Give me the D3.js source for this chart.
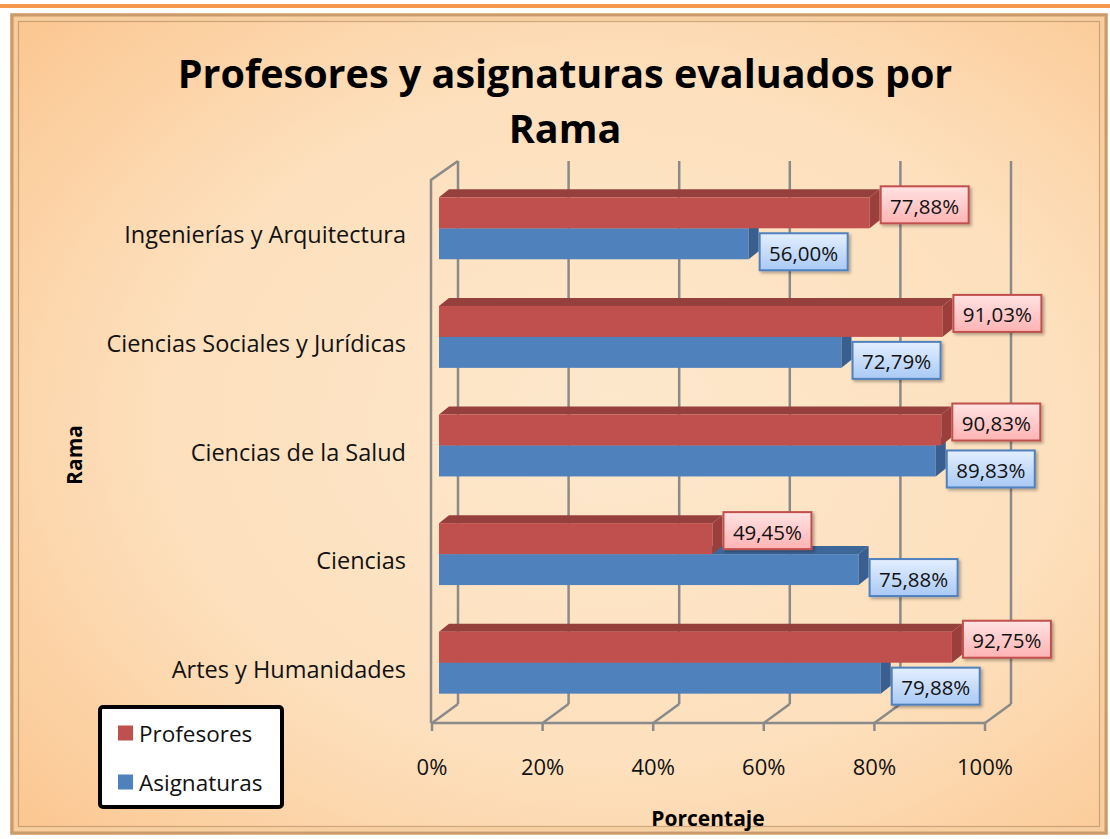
<!DOCTYPE html>
<html>
<head>
<meta charset="utf-8">
<script src="https://cdn.jsdelivr.net/npm/d3@7"></script>
<style>
  html, body { margin: 0; padding: 0; background: #fff; }
  svg { display: block; font-family: "Open Sans", "Noto Sans", sans-serif; }
</style>
</head>
<body>
<div class="chart"></div>
<script>
"use strict";
(function(){

var categories = ["Ingenierías y Arquitectura", "Ciencias Sociales y Jurídicas", "Ciencias de la Salud", "Ciencias", "Artes y Humanidades"];
var profesores = [77.88, 91.03, 90.83, 49.45, 92.75];
var asignaturas = [56.00, 72.79, 89.83, 75.88, 79.88];
var xTicks = [0, 20, 40, 60, 80, 100];
var seriesNames = ["Profesores", "Asignaturas"];

var width = 1110;
var height = 839;

var svg = d3.select('.chart')
            .append('svg')
            .attr('width', width)
            .attr('height', height);

var defs = svg.append('defs');

var bg = defs.append('radialGradient').attr('id', 'bg')
  .attr('cx', '0.55').attr('cy', '0.5').attr('r', '0.75');
bg.append('stop').attr('offset', '0%').attr('stop-color', '#fde8cc');
bg.append('stop').attr('offset', '55%').attr('stop-color', '#fde0bd');
bg.append('stop').attr('offset', '100%').attr('stop-color', '#fbc58e');

var gRed = defs.append('linearGradient').attr('id', 'lblRed').attr('x1', 0).attr('y1', 0).attr('x2', 0).attr('y2', 1);
gRed.append('stop').attr('offset', '0%').attr('stop-color', '#ffe3e3');
gRed.append('stop').attr('offset', '100%').attr('stop-color', '#ffb3b3');
var gBlue = defs.append('linearGradient').attr('id', 'lblBlue').attr('x1', 0).attr('y1', 0).attr('x2', 0).attr('y2', 1);
gBlue.append('stop').attr('offset', '0%').attr('stop-color', '#e4efff');
gBlue.append('stop').attr('offset', '100%').attr('stop-color', '#a9c9f5');

var shadow = defs.append('filter').attr('id', 'shadow')
  .attr('x', '-10%').attr('y', '-10%').attr('width', '130%').attr('height', '140%');
shadow.append('feDropShadow').attr('dx', 2).attr('dy', 2).attr('stdDeviation', 1.5)
  .attr('flood-color', '#000').attr('flood-opacity', 0.3);

// top orange rule and framed background
svg.append('rect').attr('x', 0).attr('y', 4).attr('width', width).attr('height', 4).attr('fill', '#f5964a');
svg.append('rect').attr('x', 10).attr('y', 13).attr('width', 1098).attr('height', 822).attr('fill', 'url(#bg)');
svg.append('rect').attr('x', 12).attr('y', 15).attr('width', 1094).attr('height', 818)
  .attr('fill', 'none').attr('stroke', '#c99a6c').attr('stroke-width', 3);
svg.append('rect').attr('x', 16).attr('y', 19).attr('width', 1086).attr('height', 810)
  .attr('fill', 'none').attr('stroke', '#f6cfa0').attr('stroke-width', 3);
svg.append('rect').attr('x', 18.5).attr('y', 21.5).attr('width', 1081).attr('height', 805)
  .attr('fill', 'none').attr('stroke', '#b98e68').attr('stroke-width', 1.2).attr('opacity', 0.7);

// scales
var x = d3.scaleLinear().domain([0, 100]).range([432, 985]);
var y = d3.scaleBand().domain(categories).range([180, 723]).paddingInner(0.43).paddingOuter(0.215);

var depth = {dx: 26, dy: -19};     // back wall offset
var plane = {dx: 7, dy: -6};       // front plane of bars
var bDepth = {dx: 10, dy: -8};     // bar thickness
var floorY = 723, topY = 180;
var gridColor = '#8a8a8a';

var grid = svg.append('g').attr('stroke', gridColor).attr('stroke-width', 2.5).attr('fill', 'none');

// back wall vertical gridlines
grid.selectAll('.vgrid').data(xTicks).enter().append('line')
  .attr('x1', function(d){ return x(d) + depth.dx; })
  .attr('x2', function(d){ return x(d) + depth.dx; })
  .attr('y1', topY + depth.dy)
  .attr('y2', floorY + depth.dy);

// floor diagonals
grid.selectAll('.fdiag').data(xTicks).enter().append('line')
  .attr('x1', function(d){ return x(d); })
  .attr('y1', floorY)
  .attr('x2', function(d){ return x(d) + depth.dx; })
  .attr('y2', floorY + depth.dy);

// left wall
grid.append('polyline')
  .attr('points', [[x(0) - 1, floorY], [x(0) - 1, topY], [x(0) + depth.dx, topY + depth.dy]].join(' '));

// floor front line and ticks
grid.append('line').attr('x1', x(0) - 1).attr('x2', x(100)).attr('y1', floorY).attr('y2', floorY);
grid.selectAll('.tick').data(xTicks).enter().append('line')
  .attr('x1', function(d){ return x(d); }).attr('x2', function(d){ return x(d); })
  .attr('y1', floorY).attr('y2', floorY + 8);

// bars
var series = [
  {name: seriesNames[1], values: asignaturas, front: '#4f81bd', top: '#3d6699', side: '#385f8f', offset: 1},
  {name: seriesNames[0], values: profesores, front: '#c0504d', top: '#96403d', side: '#9c3f3c', offset: 0}
];

var bh = y.bandwidth() / 2;
var bars = svg.append('g');

series.forEach(function(s){
  var g = bars.append('g');
  categories.forEach(function(c, i){
    var x0 = x(0) + plane.dx;
    var x1 = x(s.values[i]) + plane.dx;
    var y0 = y(c) + plane.dy + s.offset * bh;
    var y1 = y0 + bh;
    // top face
    g.append('polygon')
      .attr('points', [[x0, y0], [x0 + bDepth.dx, y0 + bDepth.dy], [x1 + bDepth.dx, y0 + bDepth.dy], [x1, y0]].join(' '))
      .attr('fill', s.top);
    // front face
    g.append('rect').attr('x', x0).attr('y', y0).attr('width', x1 - x0).attr('height', bh).attr('fill', s.front);
    // side face
    g.append('polygon')
      .attr('points', [[x1, y0], [x1 + bDepth.dx, y0 + bDepth.dy], [x1 + bDepth.dx, y1 + bDepth.dy], [x1, y1]].join(' '))
      .attr('fill', s.side);
  });
});

// value labels
var fmt = d3.formatLocale({decimal: ",", thousands: ".", grouping: [3], currency: ["", "€"]}).format(".2f");
var labels = svg.append('g');
series.forEach(function(s){
  categories.forEach(function(c, i){
    var barMid = y(c) + plane.dy + s.offset * bh + bh / 2;
    var cy = barMid + (s.offset ? 8 : -8);
    var lx = x(s.values[i]) + plane.dx + 11;
    var g = labels.append('g');
    g.append('rect')
      .attr('x', lx).attr('y', cy - 18.5).attr('width', 88).attr('height', 37)
      .attr('fill', s.offset ? 'url(#lblBlue)' : 'url(#lblRed)')
      .attr('stroke', s.offset ? '#4f81bd' : '#c0504d').attr('stroke-width', 2)
      .attr('filter', 'url(#shadow)');
    g.append('text')
      .attr('x', lx + 44).attr('y', cy + 1)
      .attr('text-anchor', 'middle').attr('dominant-baseline', 'central')
      .attr('font-size', 20.5).attr('fill', '#111')
      .text(fmt(s.values[i]) + '%');
  });
});

// category labels
svg.append('g').selectAll('text').data(categories).enter().append('text')
  .attr('x', 406)
  .attr('y', function(d){ return y(d) + y.bandwidth() / 2; })
  .attr('text-anchor', 'end').attr('dominant-baseline', 'central')
  .attr('font-size', 23.5).attr('fill', '#111')
  .text(function(d){ return d; });

// tick labels
svg.append('g').selectAll('text').data(xTicks).enter().append('text')
  .attr('x', function(d){ return x(d); })
  .attr('y', 766)
  .attr('text-anchor', 'middle').attr('dominant-baseline', 'central')
  .attr('font-size', 22).attr('fill', '#111')
  .text(function(d){ return d + '%'; });

// titles
var title = svg.append('text').attr('text-anchor', 'middle').attr('font-weight', 'bold')
  .attr('font-size', 39.5).attr('fill', '#000');
title.append('tspan').attr('x', 565).attr('y', 88).text('Profesores y asignaturas evaluados por');
title.append('tspan').attr('x', 565).attr('y', 143).text('Rama');

svg.append('text').attr('x', 708).attr('y', 826).attr('text-anchor', 'middle')
  .attr('font-weight', 'bold').attr('font-size', 21).attr('fill', '#000').text('Porcentaje');

svg.append('text').attr('transform', 'translate(82,455) rotate(-90)').attr('text-anchor', 'middle')
  .attr('font-weight', 'bold').attr('font-size', 21).attr('fill', '#000').text('Rama');

// legend
var legend = svg.append('g');
legend.append('rect').attr('x', 100).attr('y', 707).attr('width', 182).attr('height', 100)
  .attr('rx', 3).attr('fill', '#fff').attr('stroke', '#000').attr('stroke-width', 4);
var legColors = ['#c0504d', '#4f81bd'];
seriesNames.forEach(function(n, i){
  var ly = 733 + i * 49;
  legend.append('rect').attr('x', 118).attr('y', ly - 7.5).attr('width', 15).attr('height', 15).attr('fill', legColors[i]);
  legend.append('text').attr('x', 139).attr('y', ly).attr('dominant-baseline', 'central')
    .attr('font-size', 22.5).attr('fill', '#111').text(n);
});

})();
</script>
</body>
</html>
